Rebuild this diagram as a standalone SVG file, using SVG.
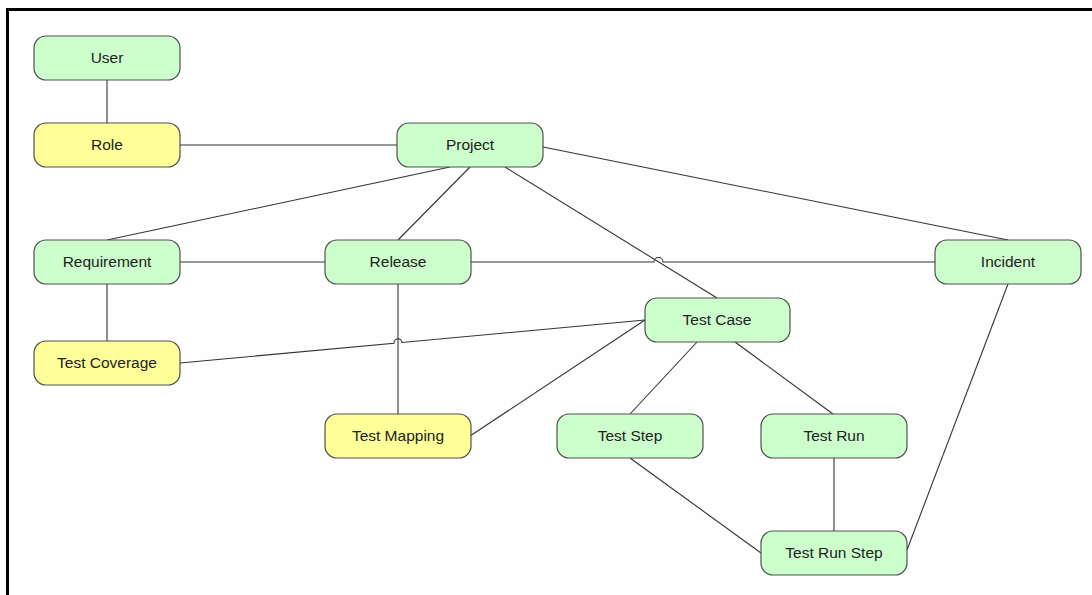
<svg xmlns="http://www.w3.org/2000/svg" width="1092" height="595" viewBox="0 0 1092 595">
  <style>
    .node rect { stroke: #505050; stroke-width: 1.2; }
    .g rect { fill: #ccffcc; }
    .y rect { fill: #ffff99; }
    .node text { font-family: "Liberation Sans", Arial, sans-serif; font-size: 15.5px; fill: #222; text-anchor: middle; dominant-baseline: central; }
    #connectors path, #connectors line { stroke: #333; stroke-width: 1.1; fill: none; }
  </style>
  <rect x="0" y="0" width="1092" height="595" fill="#ffffff"/>
  <rect x="33" y="33" width="1049" height="542" fill="#fefefe"/>
  <g id="frame" stroke="#000" stroke-width="3" fill="none">
    <line x1="6" y1="9.5" x2="1092" y2="9.5"/>
    <line x1="7.5" y1="8" x2="7.5" y2="595"/>
  </g>
  <g id="connectors">
    <line x1="107" y1="80" x2="107" y2="123"/>
    <line x1="180" y1="145" x2="397" y2="145"/>
    <line x1="450" y1="167" x2="107" y2="240"/>
    <line x1="470" y1="167" x2="398" y2="240"/>
    <line x1="505" y1="167" x2="717" y2="298"/>
    <line x1="543" y1="147" x2="1008" y2="240"/>
    <line x1="180" y1="262" x2="325" y2="262"/>
    <path d="M470,262 H654 A4.5,4.5 0 0 1 663,262 H935"/>
    <line x1="107" y1="284" x2="107" y2="341"/>
    <line x1="398" y1="284" x2="398" y2="414"/>
    <path d="M180,363 L394,343.2 A4,4 0 0 1 402,342.5 L645,320"/>
    <line x1="470" y1="436" x2="645" y2="320"/>
    <line x1="697" y1="342" x2="630" y2="414"/>
    <line x1="735" y1="342" x2="833" y2="414"/>
    <line x1="630" y1="458" x2="761" y2="553"/>
    <line x1="834" y1="458" x2="834" y2="531"/>
    <line x1="1008" y1="284" x2="907" y2="550"/>
  </g>
  <g id="user" class="node g"><rect x="34" y="36" width="146" height="44" rx="12"/><text x="107" y="57">User</text></g>
  <g id="role" class="node y"><rect x="34" y="123" width="146" height="44" rx="12"/><text x="107" y="144">Role</text></g>
  <g id="project" class="node g"><rect x="397" y="123" width="146" height="44" rx="12"/><text x="470" y="144">Project</text></g>
  <g id="requirement" class="node g"><rect x="34" y="240" width="146" height="44" rx="12"/><text x="107" y="261">Requirement</text></g>
  <g id="release" class="node g"><rect x="325" y="240" width="146" height="44" rx="12"/><text x="398" y="261">Release</text></g>
  <g id="incident" class="node g"><rect x="935" y="240" width="146" height="44" rx="12"/><text x="1008" y="261">Incident</text></g>
  <g id="test-case" class="node g"><rect x="645" y="298" width="145" height="44" rx="12"/><text x="717" y="319">Test Case</text></g>
  <g id="test-coverage" class="node y"><rect x="34" y="341" width="146" height="44" rx="12"/><text x="107" y="362">Test Coverage</text></g>
  <g id="test-mapping" class="node y"><rect x="325" y="414" width="146" height="44" rx="12"/><text x="398" y="435">Test Mapping</text></g>
  <g id="test-step" class="node g"><rect x="557" y="414" width="146" height="44" rx="12"/><text x="630" y="435">Test Step</text></g>
  <g id="test-run" class="node g"><rect x="761" y="414" width="146" height="44" rx="12"/><text x="834" y="435">Test Run</text></g>
  <g id="test-run-step" class="node g"><rect x="761" y="531" width="146" height="44" rx="12"/><text x="834" y="552">Test Run Step</text></g>
</svg>
